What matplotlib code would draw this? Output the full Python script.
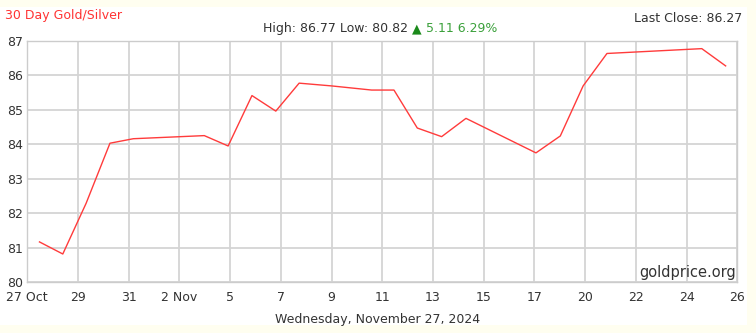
import matplotlib.pyplot as plt
from matplotlib.patches import Rectangle

# x positions in grid steps (one step between neighbouring date ticks)
pos = [0.24, 0.70, 1.16, 1.63, 2.09, 3.49, 3.96, 4.43, 4.90, 5.36,
       6.00, 6.79, 7.23, 7.69, 8.17, 8.65, 10.03, 10.51, 10.96, 11.43,
       13.30, 13.77]
ratio = [81.17, 80.82, 82.29, 84.03, 84.16, 84.25, 83.95, 85.41, 84.96, 85.77,
         85.69, 85.57, 85.57, 84.47, 84.22, 84.75, 83.75, 84.24, 85.69, 86.63,
         86.77, 86.27]
tick_labels = ['27 Oct', '29', '31', '2 Nov', '5', '7', '9', '11', '13', '15',
               '17', '20', '22', '24', '26']
y_ticks = [80, 81, 82, 83, 84, 85, 86, 87]

W, H = 756, 333
fs = 9
fig = plt.figure(figsize=(W / 100, H / 100), dpi=100, facecolor='#fffef0')
fig.patches.append(Rectangle((0, 8 / H), 747 / W, (326 - 8) / H,
                             transform=fig.transFigure, facecolor='white',
                             edgecolor='none', zorder=-5))

ax = fig.add_axes([27.3 / W, 1 - 282.3 / H, 710 / W, 241.6 / H])
ax.set_facecolor('white')
ax.plot(pos, ratio, color='#ff3b3b', lw=1.0, zorder=3)

ax.set_xlim(0, len(tick_labels) - 1)
ax.set_ylim(80, 87)
ax.set_xticks(range(len(tick_labels)))
ax.set_xticklabels(tick_labels)
ax.set_yticks(y_ticks)
ax.grid(True, color='#d4d4d4', lw=1.3)
ax.tick_params(length=0, labelsize=fs, colors='#333333')
ax.tick_params(axis='x', pad=6)
ax.tick_params(axis='y', pad=3)
for s in ax.spines.values():
    s.set_color('#cccccc')
    s.set_linewidth(1.0)

tc = '#333333'
fig.text(5 / W, 1 - 16 / H, '30 Day Gold/Silver', color='#ff3333',
         fontsize=fs, va='center', ha='left')
fig.text(742 / W, 1 - 18 / H, 'Last Close: 86.27', color=tc,
         fontsize=fs, va='center', ha='right')
t1 = fig.text(263 / W, 1 - 28.5 / H, 'High: 86.77 Low: 80.82 ', color=tc,
              fontsize=fs, va='center', ha='left')
fig.canvas.draw()
bb = t1.get_window_extent()
t2 = fig.text(bb.x1 / W, 1 - 28.5 / H, '\u25b2', color='#1a8a1a',
              fontsize=fs, va='center', ha='left')
fig.canvas.draw()
bb2 = t2.get_window_extent()
fig.text(bb2.x1 / W, 1 - 28.5 / H, ' 5.11 6.29%', color='#3aa03a',
         fontsize=fs, va='center', ha='left')

ax.text(0.998, 0.01, 'goldprice.org', transform=ax.transAxes, ha='right',
        va='bottom', fontsize=10.5, color='#333333')
fig.text(378 / W, 1 - 320 / H, 'Wednesday, November 27, 2024', color=tc,
         fontsize=fs, va='center', ha='center')

fig.savefig('out.png', dpi=100, facecolor=fig.get_facecolor())
